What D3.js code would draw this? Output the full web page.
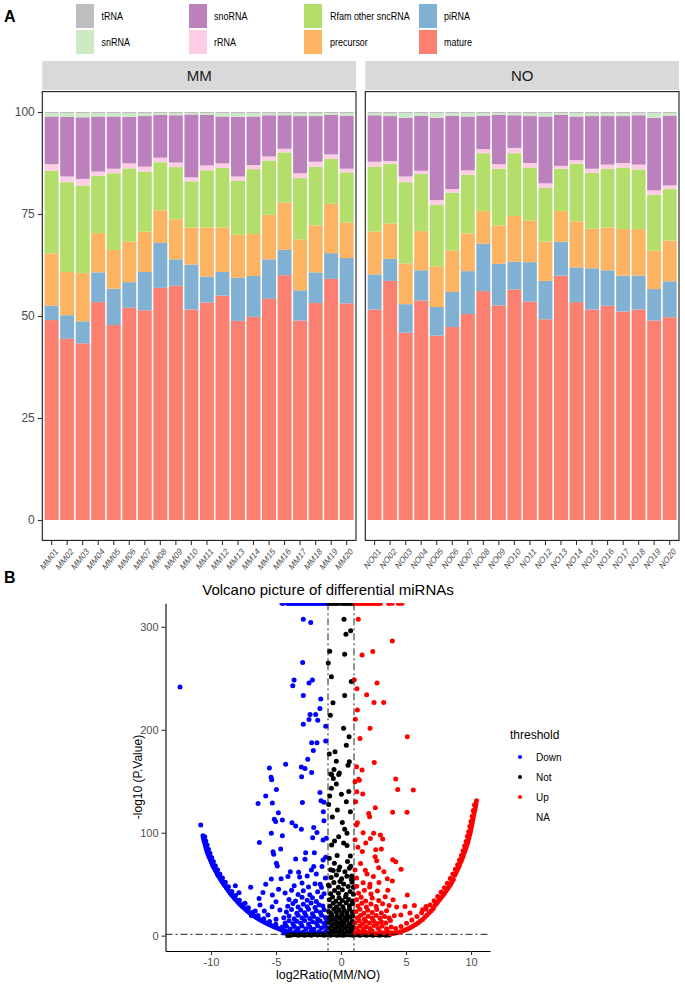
<!DOCTYPE html>
<html><head><meta charset="utf-8">
<script src="https://cdn.jsdelivr.net/npm/d3@7"></script>
<style>body{margin:0;background:#fff}svg{display:block;font-family:"Liberation Sans",Arial,sans-serif}</style>
</head><body><svg id="c" width="685" height="985"></svg>
<script>
// ---------------- DATA: panel A ----------------
const samplesMM = ["MM01","MM02","MM03","MM04","MM05","MM06","MM07","MM08","MM09","MM10","MM11","MM12","MM13","MM14","MM15","MM16","MM17","MM18","MM19","MM20"];
const samplesNO = ["NO01","NO02","NO03","NO04","NO05","NO06","NO07","NO08","NO09","NO10","NO11","NO12","NO13","NO14","NO15","NO16","NO17","NO18","NO19","NO20"];
const legendOrder = ["tRNA","snRNA","snoRNA","rRNA","Rfam other sncRNA","precursor","piRNA","mature"];
const stackKeys = ["mature","piRNA","precursor","Rfam other sncRNA","rRNA","snoRNA","snRNA","tRNA"];
const yTicksA = [0,25,50,75,100];

const matureMM    = [49.0,44.4,43.3,53.4,47.8,52.0,51.4,56.9,57.4,51.6,53.3,55.0,48.8,49.8,54.2,60.0,48.9,53.2,59.1,53.1];
const piRNAMM     = [3.5,5.8,5.4,7.3,8.9,6.3,9.4,11.0,6.5,11.0,6.4,5.8,10.6,10.0,9.7,6.2,7.4,7.5,6.3,11.1];
const precursorMM = [12.8,10.6,11.8,9.6,9.5,9.9,9.9,8.0,9.8,9.1,12.0,10.9,10.5,10.3,10.9,11.6,12.5,11.5,12.1,8.7];
const rfamMM      = [20.3,22.0,21.5,14.1,18.8,18.0,14.7,11.8,12.8,11.3,14.0,14.6,13.2,15.9,13.3,12.3,15.0,14.4,11.0,12.3];
const rRNAMM      = [1.6,1.4,1.6,1.0,1.1,1.2,1.2,1.1,1.1,1.0,1.2,1.1,1.1,1.0,1.0,0.9,1.2,1.2,1.1,0.9];
const snoRNAMM    = [11.7,14.6,15.1,13.5,12.8,11.4,12.4,10.5,11.6,15.4,12.4,11.5,14.6,11.9,10.1,8.2,14.0,11.2,9.7,13.0];
const snRNAMM     = [0.8,0.9,1.0,0.8,0.8,0.9,0.7,0.4,0.5,0.3,0.4,0.8,0.9,0.8,0.5,0.5,0.7,0.7,0.4,0.6];
const tRNAMM      = [0.3,0.3,0.3,0.3,0.3,0.3,0.3,0.3,0.3,0.3,0.3,0.3,0.3,0.3,0.3,0.3,0.3,0.3,0.3,0.3];

const matureNO    = [51.6,58.6,45.9,53.8,45.2,47.3,50.5,56.1,52.6,56.5,53.5,49.2,59.9,53.4,51.6,52.5,51.1,51.6,48.9,49.7];
const piRNANO     = [8.6,5.4,7.0,7.4,7.0,8.6,10.5,11.6,10.2,6.8,9.7,9.4,8.3,8.5,10.1,8.7,8.8,8.3,7.7,8.8];
const precursorNO = [10.5,8.7,10.0,9.6,10.0,10.2,9.2,8.0,9.4,11.2,10.2,9.6,7.5,11.3,9.7,10.5,11.4,11.4,9.4,10.0];
const rfamNO      = [15.9,14.6,19.9,14.0,15.0,14.1,14.4,14.2,13.9,15.4,13.0,13.2,10.4,14.1,13.7,14.4,15.1,14.6,13.7,12.6];
const rRNANO      = [1.2,0.7,1.4,0.8,1.2,0.9,1.1,1.0,1.1,1.3,1.1,1.1,0.7,0.9,1.0,1.0,1.1,1.2,1.1,0.9];
const snoRNANO    = [11.4,11.0,14.4,13.5,20.2,18.0,13.2,8.2,12.1,8.0,11.5,16.4,12.5,10.7,12.9,11.9,11.5,12.1,17.8,17.1];
const snRNANO     = [0.5,0.7,1.1,0.6,1.1,0.6,0.8,0.6,0.4,0.5,0.7,0.8,0.4,0.8,0.7,0.7,0.7,0.5,1.1,0.6];
const tRNANO      = [0.3,0.3,0.3,0.3,0.3,0.3,0.3,0.3,0.3,0.3,0.3,0.3,0.3,0.3,0.3,0.3,0.3,0.3,0.3,0.3];

// ---------------- DATA: panel B (volcano) ----------------
const thresholdLevels = ["Down","Not","Up","NA"];
const xTicksB = [-10,-5,0,5,10];
const yTicksB = [0,100,200,300];
const downPts = [
[-10.79,107.5],[-10.62,97],[-10.58,95],[-10.55,93],[-10.5,91],[-10.46,89],[-10.42,87],[-10.38,85],[-10.33,83],[-10.28,81],[-10.22,79],[-10.16,77],[-10.1,75.5],[-10.04,73.5],[-9.97,71.5],[-9.9,69.5],[-9.83,67.5],[-9.76,66],[-9.68,64],[-9.6,62],[-9.52,60],[-9.44,58.5],[-9.36,56.8],[-9.27,55],[-9.18,53.2],[-9.09,51.5],[-9,49.8],[-8.91,48.2],[-8.81,46.4],[-8.71,44.7],[-8.61,43],[-8.51,41.3],[-8.41,39.6],[-8.3,38],[-8.19,36.4],[-8.08,34.8],[-7.96,33.1],[-7.85,31.5],[-7.72,29.9],[-7.59,28.3],[-7.46,26.8],[-7.33,25.3],[-7.2,23.9],[-7.06,22.5],[-6.92,21.1],[-6.78,19.8],[-6.63,18.5],[-6.48,17.3],[-6.33,16.1],[-6.17,15],[-6.01,13.9],[-5.85,12.8],[-5.69,11.8],[-5.53,10.8],[-5.37,9.8],[-5.2,8.9],[-5.03,8],[-4.86,7.1],[-4.69,6.2],[-4.52,5.3],[-4.35,4.5],[-4.18,3.8],[-4.01,3],[-3.84,2.3],[-3.67,1.7],
[-10.48,96],[-10.4,92],[-10.3,88],[-10.2,84],[-10.08,80],[-9.95,76],[-9.82,72],[-9.67,68],[-9.5,64],[-9.32,60],[-9.12,56],[-8.9,52],[-8.66,47.5],[-8.4,43],[-8.12,39],[-7.82,34.5],[-7.5,30.5],[-7.15,26.5],[-6.78,22.8],[-6.38,19.5],[-5.95,16.5],[-5.5,13.8],[-5.02,11],[-4.52,8.5],
[-12.38,241.7],[-2.9,307.5],[-2.33,304.2],[-2.95,265.5],[-3.61,248.3],[-3.71,242.8],[-2.2,248.3],[-2.46,245.4],[-2.9,233.3],[-1.56,230],[-1.62,220.7],[-2.38,214.8],[-1.95,214.8],[-2.46,210],[-1.79,209.4],[-2.9,205.5],[-1.18,203.5],[-2.26,187.4],[-1.85,187.4],[-1.18,189],[-2.13,180],[-2.56,171.3],[-4.26,166.5],[-5.51,163],[-3.05,163.9],[-2.77,162.3],[-2.26,158.4],[-5.38,154],[-5.33,151.5],[-3.03,154.5],
[-4.97,142],[-5.79,135.6],[-6.38,128.5],[-5.28,129],[-2.97,129.4],[-1.62,139],[-1.54,131],[-1.31,129.5],[-4.82,119.4],[-5.13,113],[-5.03,111],[-4.51,112.3],[-3.77,109.7],[-3.49,106.5],[-3.05,103.3],[-2.1,105.2],[-1.36,120.4],[-1.31,111.6],[-6.28,90.6],[-5.36,99.4],[-4.51,97.1],[-2.18,95.1],[-1.85,100.3],[-1.38,93],[-1.13,94.7],[-5.23,81.6],[-5.18,79],[-4.64,84.2],[-2.72,80.6],[-2.05,80.6],[-3.49,74.5],[-4.97,70.3],[-4.9,67.7],[-1.38,73.6],[-1.18,76.2],[-2.77,74.2],
[-8.13,48.6],[-7.85,41.8],[-6.95,47],[-5.79,49.9],[-5.36,55.1],[-4.61,55.4],[-4.08,57.4],[-3.26,61.6],[-3.18,57],[-2.28,63.9],[-2.1,67.1],[-1.46,67.1],[-7.38,31.4],[-7.13,27.2],[-6.23,29.8],[-5.28,39.5],[-5.62,20],[-6.6,24],[-6.9,19.5],[-5.9,24],[-5.3,28],[-5.0,33],[-4.8,45],[-4.7,25],[-5.0,16],[-6.3,36],[-6.0,42],[-3.9,62],[-2.6,58],[-1.9,60],[-1.2,56],[-1.6,50],
[-4.4,2.5],[-4.1,3.8],[-3.8,2.2],[-3.5,4.1],[-3.2,2.8],[-2.9,3.5],[-2.6,2.1],[-2.3,4.4],[-2.0,2.6],[-1.7,3.9],[-1.4,2.3],[-1.15,4.2],
[-4.5,7.2],[-4.2,9.1],[-3.9,6.5],[-3.6,8.8],[-3.3,7.0],[-3.0,9.5],[-2.7,6.8],[-2.4,8.3],[-2.1,6.2],[-1.8,9.3],[-1.5,7.5],[-1.2,8.8],
[-4.3,12.4],[-4.0,14.6],[-3.7,11.5],[-3.4,13.9],[-3.1,12.1],[-2.8,14.8],[-2.5,11.3],[-2.2,13.5],[-1.9,12.2],[-1.6,14.3],[-1.3,11.8],[-1.1,14.9],
[-4.4,17.5],[-4.0,19.2],[-3.6,16.4],[-3.3,19.8],[-3.0,17.1],[-2.7,19.5],[-2.4,16.7],[-2.1,18.6],[-1.8,16.2],[-1.5,19.9],[-1.2,17.6],
[-4.2,23.1],[-3.8,25.4],[-3.4,21.8],[-3.1,24.9],[-2.8,22.3],[-2.5,25.7],[-2.2,21.4],[-1.9,24.2],[-1.6,22.6],[-1.3,25.1],
[-4.1,28.5],[-3.7,31.2],[-3.3,27.8],[-2.9,30.6],[-2.6,28.2],[-2.3,31.7],[-2.0,27.4],[-1.7,30.1],[-1.4,28.9],
[-4.0,35.1],[-3.5,33.6],[-3.0,37.2],[-2.6,34.3],[-2.2,36.8],[-1.9,33.2],[-1.5,37.5],
[-4.3,41.5],[-3.8,44.2],[-3.3,40.1],[-2.9,43.6],[-2.4,39.8],[-1.8,42.7],[-1.3,40.6],
[-3.6,48.5],[-3.0,51.2],[-2.5,47.3],[-2.0,50.4],[-1.5,46.8]
];
const notPts = [
[0.23,307.5],[0.74,296.2],[0.38,292.9],[-0.87,276.4],[0.28,273.5],[-0.98,264.8],[-0.74,251.6],[0.79,247],[0.28,233.3],[-0.62,226.2],[-0.82,214.2],[0.2,201.6],[0.62,193.2],[0.41,185.1],[-0.46,178.6],[-0.9,176.6],[-0.36,169.5],[0.64,168.9],[0.54,165.6],[-0.54,161.4],[-0.72,156.6],[-0.18,156.6],[-0.59,152.7],
[-0.79,157],[-0.13,158],[-0.36,147.3],[-0.74,143.1],[0.03,137.3],[-0.87,135.6],[-0.95,127.5],[0.41,130.1],[0.72,120.4],[-0.28,122],[-0.67,115.2],[0.28,103.3],[0.46,99.4],[-0.18,96.2],[-0.72,88.1],[0.46,87.5],[0.72,77.4],[-0.9,75.2],[-0.51,70.3],[-0.18,63.9],[0.64,65.5],[0.82,58],[-0.97,49.3],[-0.08,52.6],[0.9,55],[-0.3,78],[0.1,110],[-0.5,92],[0.6,140],[0.2,90],[-0.8,64],[0.5,72],[0.95,47],
[-0.95,2.1],[-0.75,4.3],[-0.55,1.8],[-0.35,3.6],[-0.15,2.4],[0.05,4.7],[0.25,1.9],[0.45,3.9],[0.65,2.6],[0.85,4.5],
[-0.9,7.4],[-0.7,9.6],[-0.5,6.3],[-0.3,8.9],[-0.1,6.8],[0.1,9.8],[0.3,7.1],[0.5,9.2],[0.7,6.5],[0.9,8.6],
[-0.95,12.8],[-0.75,14.9],[-0.55,11.4],[-0.35,13.7],[-0.15,11.9],[0.05,14.2],[0.25,12.5],[0.45,15.1],[0.65,11.6],[0.85,13.8],
[-0.9,17.6],[-0.7,19.8],[-0.5,16.5],[-0.3,18.9],[-0.1,17.2],[0.1,20.1],[0.3,16.8],[0.5,19.4],[0.7,17.9],[0.9,19.2],
[-0.95,23.4],[-0.75,21.5],[-0.55,25.6],[-0.35,22.8],[-0.15,25.1],[0.05,21.7],[0.25,24.6],[0.45,22.2],[0.65,25.8],[0.85,23.1],
[-0.85,28.6],[-0.6,31.4],[-0.35,27.9],[-0.1,30.8],[0.15,28.2],[0.4,31.9],[0.65,29.1],[0.9,31.2],
[-0.9,34.8],[-0.65,37.6],[-0.4,33.5],[-0.15,36.9],[0.1,34.1],[0.35,37.8],[0.6,35.2],[0.85,33.7],
[-0.8,40.7],[-0.5,43.9],[-0.2,41.2],[0.1,44.5],[0.4,39.9],[0.7,42.8],[0.95,40.3],
[-0.9,48.2],[-0.55,51.6],[-0.2,47.1],[0.2,50.3],[0.55,47.8],[0.85,51.9],
[-0.75,56.4],[-0.35,58.9],[0.05,55.2],[0.45,57.7],[0.8,54.6],
[-0.6,63.2],[-0.1,66.8],[0.3,62.1],[0.75,67.4],
[-4.1,0.2],[-3.95,0.4],[-3.8,0.6],[-3.55,0.9],[-3.3,0.4],[-3.05,1.0],[-2.8,0.5],[-2.55,0.8],[-2.3,0.3],[-2.05,1.1],[-1.8,0.6],[-1.55,0.9],[-1.3,0.4],[-1.05,0.8],[-0.8,0.5],[-0.55,1.0],[-0.3,0.3],[-0.05,0.7],[0.2,0.4],[0.45,1.0],[0.7,0.6],[0.95,0.3],[1.2,0.9],[1.45,0.5],[1.7,1.0],[1.95,0.4],[2.2,0.8],[2.45,0.3],[2.7,0.9],[2.95,0.5],[3.2,1.0],[3.45,0.4],[3.7,0.7]
];
const upPts = [
[10.42,131],[10.38,128],[10.34,125],[10.3,122.5],[10.25,120],[10.2,117],[10.16,114],[10.12,111.5],[10.08,109],[10.04,106.5],[10.0,104],[9.96,101.5],[9.92,99.3],[9.87,97],[9.82,94.5],[9.77,92],[9.72,89.8],[9.66,87.5],[9.6,85],[9.53,82.5],[9.46,80],[9.39,77.5],[9.32,75],[9.25,72.8],[9.17,70.5],[9.09,68],[9.01,65.8],[8.92,63.3],[8.83,61],[8.74,58.7],[8.64,54.5],[8.54,52.3],[8.43,50],[8.32,47.8],[8.2,45.5],[8.08,43.3],[7.95,41],[7.82,38.8],[7.68,36.5],[7.54,34.3],[7.4,32],[7.25,29.8],[7.1,26.5],[6.94,24.3],[6.78,22.2],[6.61,20.0],[6.44,17.8],[6.27,15.6],[6.09,13.9],[5.91,12.3],[5.73,10.8],[5.54,9.4],[5.35,8.0],[5.16,6.8],[4.97,5.7],[4.78,4.7],[4.59,3.8],[4.4,3.1],[4.21,2.5],[4.02,2.0],[3.83,1.6],
[10.27,127],[10.18,121.5],[10.09,116],[10.0,111],[9.91,106],[9.82,101],[9.72,96.5],[9.62,91.5],[9.51,87],[9.39,82.5],[9.26,78],[9.12,73.5],[8.97,69],[8.8,64.5],[8.6,60],[8.4,55.5],[8.18,51],[7.95,46.5],[7.7,42.3],[7.44,38],[7.16,33.8],[6.86,29.8],[6.54,25.9],[6.2,22.2],[5.84,18.7],[5.45,15.3],[5.04,12],[4.62,9]
,
[1.33,307.5],[3.95,286.2],[2.44,276.1],[1.62,272.6],[1.02,248.6],[2.77,245.4],[1.23,239.9],[1.97,234.1],[2.54,226.6],[3.28,226.6],[1.26,219.2],[1.1,210.2],[2.23,201.6],[1.46,191.6],[5.1,193.2],[2.56,168.3],[1.2,164],[1.62,160.9],[4.21,152.2],[1.36,151.9],
[1.08,149.5],[1.41,151.1],[4.36,142],[5.56,141.4],[1.21,139.9],[1.67,137.6],[1.13,130.1],[2.64,124.3],[2.13,118.8],[2.2,115.5],[3.97,119.8],[5.08,119.8],[1.26,109.7],[1.18,107.5],[2.51,99.4],[2.26,94.5],[3.03,97.8],[3.21,93.9],[1.08,93.1],[1.64,81.8],[2.67,83.4],[3.1,84.1],[2.62,76.7],[2.74,72.8],[3.97,73.8],[4.21,71.8],[4.62,64.6],[1.08,63.9],[1.87,63.6],[2.49,57.4],[3.56,55.4],[3.95,53.1],[2.23,49.9],[2.92,51.6],[5.1,39.5],[4.28,27.8],[4.92,28.4],[5.64,29.4],[6.54,28.4],[6.28,25.2],[1.5,70],[1.3,86],[2.0,60],[3.3,62],[1.2,56],[4.6,20],[5.3,22],[4.0,35],[3.6,44],[2.9,66],[1.7,100],[1.9,90],
[1.1,2.6],[1.35,4.2],[1.6,2.3],[1.85,3.9],[2.1,2.8],[2.4,4.5],[2.7,2.2],[3.0,3.7],[3.3,2.5],[3.6,4.1],[3.9,2.9],
[1.2,7.3],[1.45,9.5],[1.7,6.4],[1.95,8.7],[2.25,6.9],[2.55,9.8],[2.85,7.2],[3.15,9.1],[3.5,6.6],[3.85,8.4],[4.2,7.0],
[1.1,12.6],[1.4,14.8],[1.65,11.5],[1.9,13.9],[2.2,12.2],[2.5,14.5],[2.8,11.7],[3.1,13.6],[3.45,12.3],[3.8,14.7],
[1.25,17.4],[1.5,19.7],[1.8,16.3],[2.1,18.9],[2.4,17.1],[2.7,19.6],[3.0,16.8],[3.35,18.5],[3.7,17.2],[4.1,19.3],
[1.15,23.2],[1.45,25.6],[1.75,21.7],[2.05,24.8],[2.4,22.4],[2.75,25.3],[3.1,21.9],[3.5,24.1],
[1.3,28.7],[1.6,31.5],[1.95,27.9],[2.3,30.8],[2.7,28.4],[3.2,31.1],[3.7,29.3],
[1.2,34.9],[1.55,37.3],[1.9,33.6],[2.4,36.5],[2.9,34.2],[3.4,37.8],
[1.35,41.2],[1.8,44.1],[2.3,40.5],[2.8,43.3],
[1.2,48.1],[1.7,51.3],[2.2,47.2]
];
// points whose -log10(p) is infinite (p = 0): x positions only
const infDownX = [-4.55,-4.45,-4.15,-4.05,-3.95,-3.85,-3.75,-3.65,-3.55,-3.45,-3.35,-3.25,-3.15,-3.05,-2.95,-2.85,-2.75,-2.65,-2.55,-2.45,-2.35,-2.25,-2.15,-2.05,-1.95,-1.85,-1.75,-1.65,-1.55,-1.45,-1.35,-1.25,-1.15,-1.05];
const infNotX = [-0.95,-0.85,-0.75,-0.65,-0.55,-0.45,-0.35,-0.25,-0.15,0.05,0.15,0.25,0.35,0.45,0.55,0.65,0.75,0.85,0.95];
const infUpX = [1.05,1.15,1.25,1.35,1.45,1.55,1.65,1.75,1.85,1.95,2.05,2.15,2.25,2.35,2.45,2.55,2.65,2.75,2.85,2.95,3.05,3.65,3.75,3.95,4.4,4.5,4.7];

// ---------------- STYLE ----------------
const fillA = {"tRNA":"#BEBEBE","snRNA":"#CCEBC5","snoRNA":"#BC80BD","rRNA":"#FCCDE5","Rfam other sncRNA":"#B3DE69","precursor":"#FDB462","piRNA":"#80B1D3","mature":"#FB8072"};
const colB = {"Down":"#0000FF","Not":"#000000","Up":"#FF0000"};
const FONT = '"Liberation Sans",Arial,sans-serif';

const svg = d3.select("#c");

// ---------------- PANEL A ----------------
svg.append("text").attr("x",4).attr("y",22).attr("font-size",16).attr("font-weight","bold").text("A");

const keyX = [76,189,304,419], txtX = [101.5,214,330,444], keyY = [4,30];
legendOrder.forEach((k,i)=>{
  const c = Math.floor(i/2), r = i%2;
  svg.append("rect").attr("x",keyX[c]).attr("y",keyY[r]).attr("width",18).attr("height",24).attr("fill",fillA[k]);
  svg.append("text").attr("transform",`translate(${txtX[c]},${keyY[r]+12}) scale(0.78,1)`).attr("dy","0.35em")
     .attr("font-size",11.5).attr("fill","#000").text(k);
});

const yA = d3.scaleLinear().domain([-5,105]).range([540.4,91.6]);
const dataMM = {"mature":matureMM,"piRNA":piRNAMM,"precursor":precursorMM,"Rfam other sncRNA":rfamMM,"rRNA":rRNAMM,"snoRNA":snoRNAMM,"snRNA":snRNAMM,"tRNA":tRNAMM};
const dataNO = {"mature":matureNO,"piRNA":piRNANO,"precursor":precursorNO,"Rfam other sncRNA":rfamNO,"rRNA":rRNANO,"snoRNA":snoRNANO,"snRNA":snRNANO,"tRNA":tRNANO};

function drawPanel(name, samples, data, x0, x1){
  const x = d3.scaleBand().domain(samples).range([x0,x1]).paddingInner(0.1).paddingOuter(0.15);
  const rows = samples.map((s,i)=>{const r={sample:s}; stackKeys.forEach(k=>r[k]=data[k][i]); return r;});
  const series = d3.stack().keys(stackKeys)(rows);
  svg.append("rect").attr("x",x0).attr("y",61).attr("width",x1-x0).attr("height",29).attr("fill","#D9D9D9");
  svg.append("text").attr("x",(x0+x1)/2).attr("y",75.5).attr("dy","0.36em").attr("text-anchor","middle")
     .attr("font-size",15).attr("fill","#1A1A1A").text(name);
  const g = svg.append("g");
  series.forEach(s=>{
    g.selectAll(null).data(s).join("rect")
      .attr("x",d=>x(d.data.sample)).attr("width",x.bandwidth())
      .attr("y",d=>yA(d[1])).attr("height",d=>yA(d[0])-yA(d[1]))
      .attr("fill",fillA[s.key]);
  });
  svg.append("rect").attr("x",x0).attr("y",yA(105)).attr("width",x1-x0).attr("height",yA(-5)-yA(105))
     .attr("fill","none").attr("stroke","#1A1A1A").attr("stroke-width",1.1);
  const ax = svg.append("g").attr("transform",`translate(0,${yA(-5)})`)
     .call(d3.axisBottom(x).tickSize(4.5).tickSizeOuter(0));
  ax.select(".domain").remove();
  ax.selectAll(".tick line").attr("stroke","#333").attr("stroke-width",1.1);
  ax.selectAll(".tick text").attr("font-family",FONT).attr("font-size",9.5).attr("fill","#4D4D4D")
     .attr("text-anchor","end").attr("x",0).attr("y",0).attr("dy","0.7em")
     .attr("transform","translate(3,7) scale(0.8,1) rotate(-45)");
  return x;
}
drawPanel("MM", samplesMM, dataMM, 42.3, 356);
drawPanel("NO", samplesNO, dataNO, 365.3, 679);
const ayA = svg.append("g").attr("transform","translate(42.3,0)")
  .call(d3.axisLeft(yA).tickValues(yTicksA).tickSize(4.5).tickSizeOuter(0).tickPadding(3));
ayA.select(".domain").remove();
ayA.selectAll(".tick line").attr("stroke","#333").attr("stroke-width",1.1);
ayA.selectAll(".tick text").attr("font-family",FONT).attr("font-size",12).attr("fill","#4D4D4D");

// ---------------- PANEL B ----------------
svg.append("text").attr("x",4).attr("y",583).attr("font-size",16).attr("font-weight","bold").text("B");
const xV = d3.scaleLinear().domain([-13.5,11.46]).range([165.5,490]);
const yV = d3.scaleLinear().domain([-14.9,322.9]).range([951,603.3]);
svg.append("defs").append("clipPath").attr("id","clipB").append("rect")
  .attr("x",165.5).attr("y",603.3).attr("width",490-165.5).attr("height",951-603.3);
const gp = svg.append("g").attr("clip-path","url(#clipB)");
const R = 2.5;
[["Down",downPts],["Not",notPts],["Up",upPts]].forEach(([k,pts])=>{
  gp.selectAll(null).data(pts).join("circle")
    .attr("cx",d=>xV(d[0])).attr("cy",d=>yV(d[1])).attr("r",R).attr("fill",colB[k]);
});
[["Down",infDownX],["Not",infNotX],["Up",infUpX]].forEach(([k,xs])=>{
  gp.selectAll(null).data(xs).join("circle")
    .attr("cx",d=>xV(d)).attr("cy",yV.range()[1]).attr("r",R).attr("fill",colB[k]);
});
// threshold lines
const dash = "7,3,2,3";
[-1,1].forEach(v=>{
  gp.append("line").attr("x1",xV(v)).attr("x2",xV(v)).attr("y1",603.3).attr("y2",951)
    .attr("stroke","#222").attr("stroke-width",1).attr("stroke-dasharray",dash);
});
gp.append("line").attr("x1",165.5).attr("x2",490).attr("y1",yV(-Math.log10(0.05))).attr("y2",yV(-Math.log10(0.05)))
  .attr("stroke","#222").attr("stroke-width",1).attr("stroke-dasharray",dash);

const axB = svg.append("g").attr("transform","translate(0,951)")
  .call(d3.axisBottom(xV).tickValues(xTicksB).tickSize(4).tickSizeOuter(0).tickPadding(3).tickFormat(d3.format("d")));
const ayB = svg.append("g").attr("transform","translate(165.5,0)")
  .call(d3.axisLeft(yV).tickValues(yTicksB).tickSize(4).tickSizeOuter(0).tickPadding(3));
[axB,ayB].forEach(a=>{
  a.select(".domain").attr("stroke","#000").attr("stroke-width",1.1);
  a.selectAll(".tick line").attr("stroke","#333").attr("stroke-width",1.1);
  a.selectAll(".tick text").attr("font-family",FONT).attr("font-size",11).attr("fill","#4D4D4D");
});
axB.selectAll(".tick text").text(d=>d<0?"-"+Math.abs(d):d);
svg.append("text").attr("x",328).attr("y",595).attr("text-anchor","middle").attr("font-size",15).attr("fill","#000")
  .text("Volcano picture of differential miRNAs");
svg.append("text").attr("x",328).attr("y",979).attr("text-anchor","middle").attr("font-size",12.5).attr("fill","#000")
  .text("log2Ratio(MM/NO)");
svg.append("text").attr("transform","translate(138,777) rotate(-90)").attr("text-anchor","middle").attr("dy","0.35em")
  .attr("font-size",12).attr("fill","#000").text("-log10 (P.Value)");

// legend B
svg.append("text").attr("x",510).attr("y",739).attr("font-size",12).attr("fill","#000").text("threshold");
thresholdLevels.forEach((k,i)=>{
  const cy = 757 + i*20;
  if (colB[k]) svg.append("circle").attr("cx",520).attr("cy",cy).attr("r",2).attr("fill",colB[k]);
  svg.append("text").attr("x",536).attr("y",cy).attr("dy","0.35em").attr("font-size",10).attr("fill","#000").text(k);
});
</script></body></html>
